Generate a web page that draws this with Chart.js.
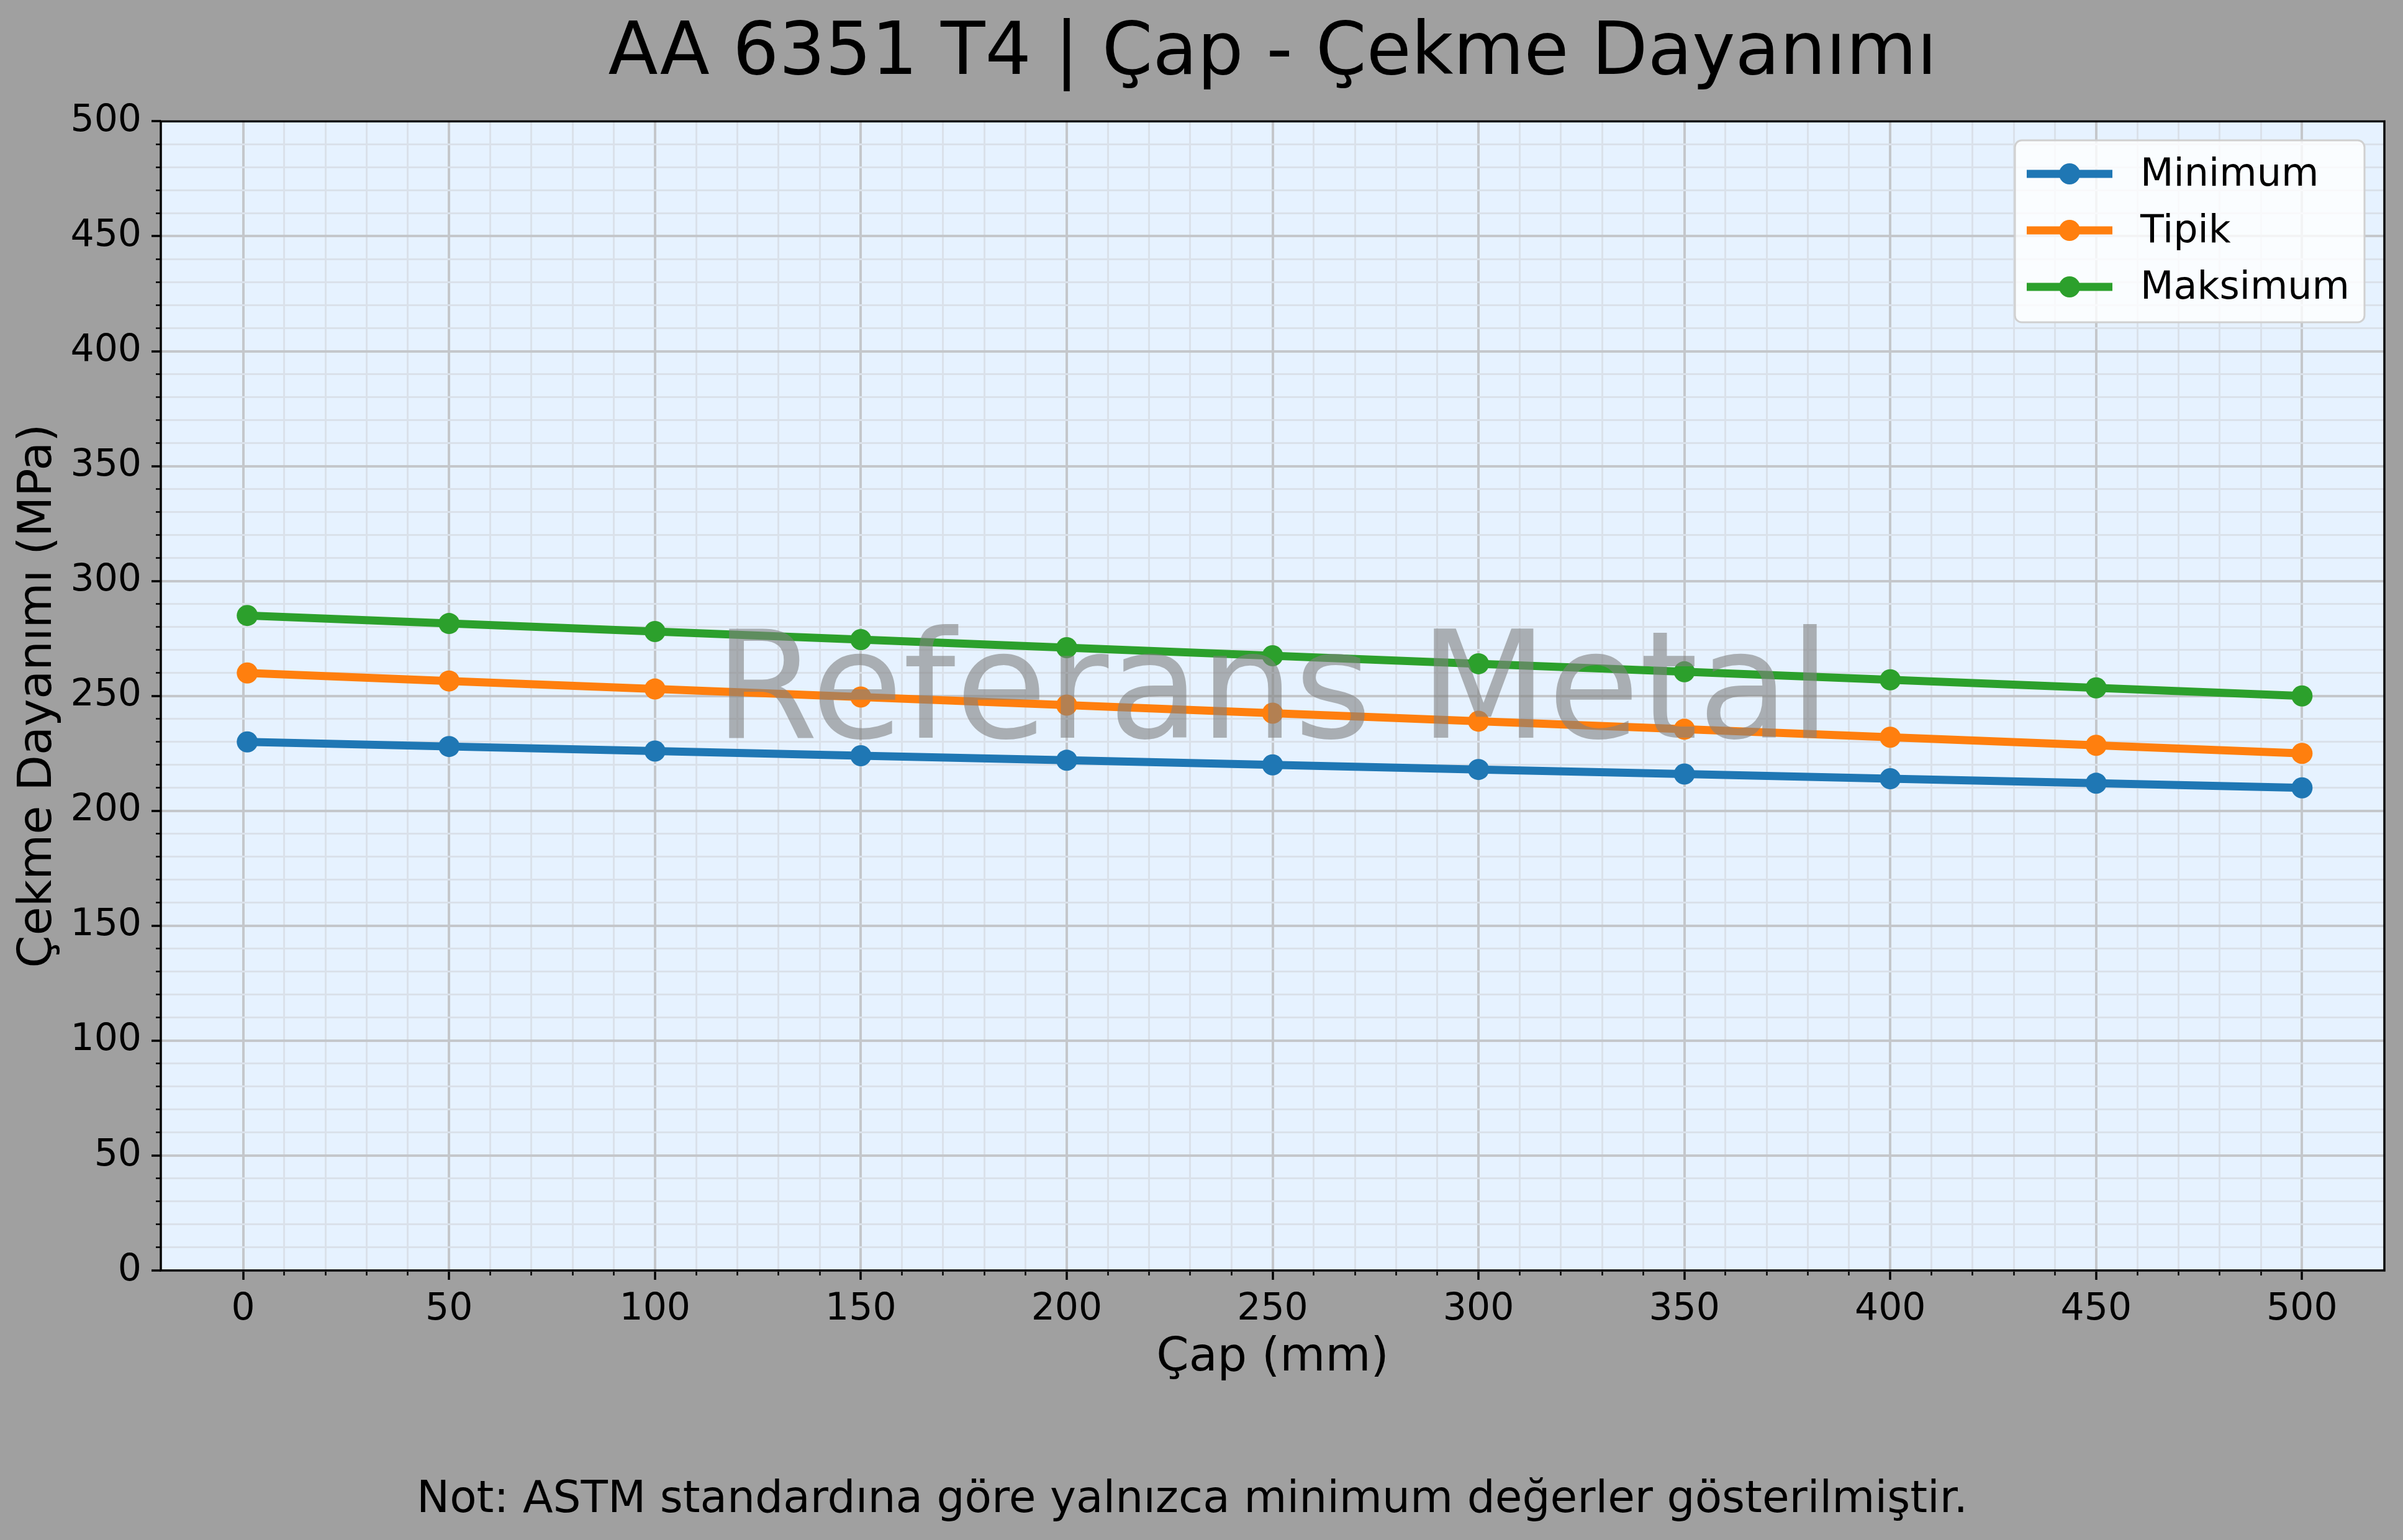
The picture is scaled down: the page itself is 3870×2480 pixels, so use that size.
<!DOCTYPE html>
<html>
<head>
<meta charset="utf-8">
<script src="https://cdn.jsdelivr.net/npm/chart.js@4.4.1/dist/chart.umd.min.js"></script>
<style>
html,body{margin:0;padding:0;background:#a0a0a0;}
#wrap{width:3870px;height:2480px;}
</style>
</head>
<body>
<div id="wrap"><canvas id="c" width="3870" height="2480"></canvas></div>
<script>
// ---- data ----
const diameters = [1, 50, 100, 150, 200, 250, 300, 350, 400, 450, 500];
const minimumValues = [230, 228, 226, 224, 222, 220, 218, 216, 214, 212, 210];
const typicalValues = [260, 256.5, 253, 249.5, 246, 242.5, 239, 235.5, 232, 228.5, 225];
const maximumValues = [285, 281.5, 278, 274.5, 271, 267.5, 264, 260.5, 257, 253.5, 250];
const seriesLabels = ['Minimum', 'Tipik', 'Maksimum'];
const seriesColors = ['#1f77b4', '#ff7f0e', '#2ca02c'];

// ---- ticks ----
const xMajorTicks = [0, 50, 100, 150, 200, 250, 300, 350, 400, 450, 500];
const xMinorTicks = [10, 20, 30, 40, 60, 70, 80, 90, 110, 120, 130, 140, 160, 170, 180, 190,
  210, 220, 230, 240, 260, 270, 280, 290, 310, 320, 330, 340, 360, 370, 380, 390,
  410, 420, 430, 440, 460, 470, 480, 490];
const yMajorTicks = [0, 50, 100, 150, 200, 250, 300, 350, 400, 450, 500];
const yMinorTicks = [10, 20, 30, 40, 60, 70, 80, 90, 110, 120, 130, 140, 160, 170, 180, 190,
  210, 220, 230, 240, 260, 270, 280, 290, 310, 320, 330, 340, 360, 370, 380, 390,
  410, 420, 430, 440, 460, 470, 480, 490];

// ---- texts ----
const titleText = 'AA 6351 T4 | Çap - Çekme Dayanımı';
const xTitleText = 'Çap (mm)';
const yTitleText = 'Çekme Dayanımı (MPa)';
const footerText = 'Not: ASTM standardına göre yalnızca minimum değerler gösterilmiştir.';
const watermarkText = 'Referans Metal';

const FONT = "'DejaVu Sans', 'Liberation Sans', sans-serif";
Chart.defaults.font.family = FONT;
Chart.defaults.color = '#000';

const seriesValues = [minimumValues, typicalValues, maximumValues];
const datasets = seriesValues.map((vals, i) => ({
  label: seriesLabels[i],
  data: diameters.map((d, j) => ({ x: d, y: vals[j] })),
  borderColor: seriesColors[i],
  backgroundColor: seriesColors[i],
  pointBackgroundColor: seriesColors[i],
  borderWidth: 13,
  pointRadius: 17,
  pointBorderWidth: 0,
  pointHoverRadius: 17,
  tension: 0,
  fill: false,
  xAxisID: 'x',
  yAxisID: 'y',
  order: 3 - i
}));

const bgPlugin = {
  id: 'bg',
  beforeDraw(chart) {
    const { ctx, chartArea: a } = chart;
    ctx.save();
    ctx.fillStyle = '#a0a0a0';
    ctx.fillRect(0, 0, chart.width, chart.height);
    ctx.fillStyle = '#e6f2ff';
    ctx.fillRect(a.left, a.top, a.right - a.left, a.bottom - a.top);
    ctx.restore();
  }
};

const overlayPlugin = {
  id: 'overlay',
  afterDatasetsDraw(chart) {
    const { ctx, chartArea: a } = chart;
    ctx.save();
    // watermark
    ctx.font = '240px ' + FONT;
    ctx.fillStyle = 'rgba(128,128,128,0.6)';
    ctx.textAlign = 'center';
    ctx.textBaseline = 'alphabetic';
    ctx.fillText(watermarkText, (a.left + a.right) / 2, 1188);
    // frame
    ctx.strokeStyle = '#000';
    ctx.lineWidth = 3.5;
    ctx.strokeRect(a.left, a.top, a.right - a.left, a.bottom - a.top);
    // legend
    const bx = 3245, by = 226, bw = 563, bh = 293, r = 11;
    ctx.beginPath();
    ctx.roundRect(bx, by, bw, bh, r);
    ctx.fillStyle = 'rgba(255,255,255,0.8)';
    ctx.fill();
    ctx.lineWidth = 3;
    ctx.strokeStyle = '#d0d0d0';
    ctx.stroke();
    const rows = [280, 371, 462];
    chart.data.datasets.forEach((ds, i) => {
      const yy = rows[i];
      ctx.strokeStyle = ds.borderColor;
      ctx.lineWidth = 13;
      ctx.lineCap = 'butt';
      ctx.beginPath();
      ctx.moveTo(3264, yy);
      ctx.lineTo(3402, yy);
      ctx.stroke();
      ctx.fillStyle = ds.borderColor;
      ctx.beginPath();
      ctx.arc(3333, yy, 17, 0, Math.PI * 2);
      ctx.fill();
      ctx.fillStyle = '#000';
      ctx.font = '62px ' + FONT;
      ctx.textAlign = 'left';
      ctx.textBaseline = 'middle';
      ctx.fillText(ds.label, 3447, yy + 3);
    });
    ctx.restore();
  }
};

new Chart(document.getElementById('c'), {
  type: 'line',
  data: { datasets },
  options: {
    responsive: false,
    devicePixelRatio: 1,
    animation: false,
    events: [],
    layout: { padding: { left: 0, right: 30, top: 0, bottom: 0 } },
    plugins: {
      legend: { display: false },
      tooltip: { enabled: false },
      title: {
        display: true, text: titleText, color: '#000', fullSize: false,
        font: { size: 117, weight: 'normal', family: FONT },
        padding: { top: 18, bottom: 37 }
      },
      subtitle: {
        display: true, text: footerText, position: 'bottom', color: '#000',
        font: { size: 71, weight: 'normal', family: FONT },
        padding: { top: 10, bottom: 21 }
      }
    },
    scales: {
      x: {
        type: 'linear', position: 'bottom', min: -20, max: 520, weight: 1,
        afterBuildTicks: s => { s.ticks = xMajorTicks.map(v => ({ value: v })); },
        afterFit: s => { s.height = 2480 - 116.2 - 2046; },
        grid: { color: '#c4c7cb', lineWidth: 4, tickLength: 15, tickColor: '#000', tickWidth: 3.5 },
        border: { display: false },
        ticks: { color: '#000', font: { size: 60 }, padding: 12, maxRotation: 0, autoSkip: false },
        title: { display: true, text: xTitleText, color: '#000', font: { size: 75 }, padding: { top: 0, bottom: 131 } }
      },
      xMinor: {
        type: 'linear', position: 'bottom', min: -20, max: 520, weight: 0,
        afterBuildTicks: s => { s.ticks = xMinorTicks.map(v => ({ value: v })); },
        afterFit: s => { s.height = 0; },
        grid: { color: '#dae1ea', lineWidth: 3, tickLength: 8, tickColor: '#000', tickWidth: 2.5 },
        border: { display: false },
        ticks: { display: false }
      },
      y: {
        type: 'linear', position: 'left', min: 0, max: 500, weight: 1,
        afterBuildTicks: s => { s.ticks = yMajorTicks.map(v => ({ value: v })); },
        afterFit: s => { s.width = 259; },
        grid: { color: '#c4c7cb', lineWidth: 4, tickLength: 15, tickColor: '#000', tickWidth: 3.5 },
        border: { display: false },
        ticks: { color: '#000', font: { size: 60 }, padding: 16, autoSkip: false },
        title: { display: true, text: yTitleText, color: '#000', font: { size: 75 }, padding: { top: 18, bottom: 0 } }
      },
      yMinor: {
        type: 'linear', position: 'left', min: 0, max: 500, weight: 0,
        afterBuildTicks: s => { s.ticks = yMinorTicks.map(v => ({ value: v })); },
        afterFit: s => { s.width = 0; },
        grid: { color: '#dae1ea', lineWidth: 3, tickLength: 8, tickColor: '#000', tickWidth: 2.5 },
        border: { display: false },
        ticks: { display: false }
      }
    }
  },
  plugins: [bgPlugin, overlayPlugin]
});
</script>
</body>
</html>
